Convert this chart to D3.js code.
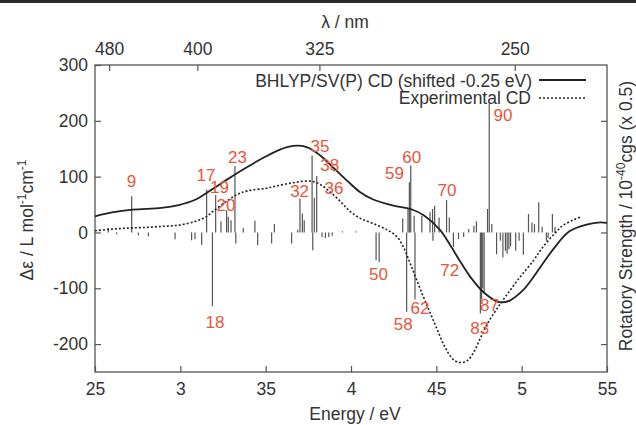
<!DOCTYPE html>
<html>
<head>
<meta charset="utf-8">
<script src="https://cdn.jsdelivr.net/npm/d3@7/dist/d3.min.js"></script>
<style>
  body { margin: 0; background: #fff; }
  svg { display: block; font-family: "Liberation Sans", Arial, sans-serif; }
  .tick text { font-size: 17.5px; fill: #333; }
  .tick line { stroke: #555; stroke-width: 1.2; }
</style>
</head>
<body>
<svg id="cd" width="636" height="425"></svg>
<script>
// theoretical CD (BHLYP/SV(P), shifted)
var theoryE = [2.5, 2.6, 2.72, 2.89, 2.99, 3.09, 3.18, 3.28, 3.38, 3.5, 3.58, 3.66, 3.74, 3.82, 3.9, 3.98, 4.05, 4.13, 4.25, 4.35, 4.43, 4.52, 4.58, 4.64, 4.70, 4.78, 4.87, 4.93, 5.01, 5.05, 5.11, 5.19, 5.28, 5.38, 5.46, 5.5];
var theoryV = [29, 36, 41, 44, 49, 59, 76, 96, 115, 136, 148, 155, 153, 138, 115, 92, 73, 59, 48, 42, 30, 5, -22, -52, -80, -108, -125, -122, -103, -88, -62, -28, 2, 14, 18, 17];

// experimental CD
var expE = [2.5, 2.6, 2.7, 2.8, 2.9, 2.99, 3.09, 3.15, 3.2, 3.28, 3.34, 3.4, 3.5, 3.56, 3.66, 3.76, 3.82, 3.88, 3.94, 3.99, 4.05, 4.13, 4.21, 4.27, 4.31, 4.35, 4.40, 4.45, 4.50, 4.55, 4.60, 4.64, 4.68, 4.72, 4.76, 4.80, 4.85, 4.91, 4.99, 5.07, 5.12, 5.19, 5.24, 5.30, 5.35];
var expV = [3, 6, 8, 9, 11, 13, 20, 28, 40, 58, 69, 75, 79, 83, 89, 92, 86, 72, 55, 39, 26, 16, 5, -8, -28, -58, -97, -134, -170, -205, -228, -233, -230, -214, -188, -163, -139, -113, -80, -50, -28, -3, 12, 22, 28];

// rotatory strengths (sticks)
var stickE = [2.578, 2.627, 2.715, 2.754, 2.813, 2.969, 3.066, 3.086, 3.125, 3.154,
              3.188, 3.207, 3.238, 3.271, 3.281, 3.297, 3.320, 3.325, 3.369, 3.437,
              3.453, 3.535, 3.551, 3.652, 3.688, 3.701, 3.715, 3.726, 3.772, 3.776,
              3.785, 3.799, 3.83, 3.85, 3.87, 3.89, 3.95, 4.03, 4.147, 4.165,
              4.303, 4.326, 4.334, 4.342, 4.350, 4.37, 4.375, 4.415, 4.463, 4.478,
              4.48, 4.49, 4.516, 4.56, 4.576, 4.60, 4.63, 4.66, 4.69, 4.72,
              4.735, 4.758, 4.765, 4.772, 4.78, 4.80, 4.81, 4.825, 4.853, 4.875,
              4.89, 4.905, 4.915, 4.925, 4.935, 4.965, 4.985, 5.01, 5.04, 5.06,
              5.075, 5.10, 5.12, 5.145, 5.155, 5.18, 5.195];
var stickV = [8, -3, 65, -5, -7, -12, -14, -12, -22, 77,
              -132, 67, 20, 40, 28, 22, 119, -20, 8, 21,
              -23, -20, 15, -20, 5, 61, 34, 22, 138, -32,
              62, 101, -8, -10, -8, -6, 2, 2, -50, -53,
              25, -142, 42, 90, 120, 30, -120, 30, 36, 42,
              -15, 48, 27, 58, 27, -26, -12, -8, 6, 12,
              20, -145, -120, -100, -109, 42, 231, 15, -39, -15,
              -45, -33, -38, -30, -25, -33, -15, -40, 33, 18,
              15, 54, 10, -15, -10, 33, 10];

// excited state numbers and where they sit (eV, L/mol/cm)
var labelText = ["9", "17", "19", "20", "23", "18", "32", "35", "38", "36", "50", "59", "60", "62", "58", "70", "72", "83", "87", "90"];
var labelE = [2.714, 3.150, 3.229, 3.268, 3.335, 3.203, 3.699, 3.818, 3.875, 3.900, 4.161, 4.255, 4.356, 4.404, 4.306, 4.562, 4.578, 4.754, 4.811, 4.890];
var labelV = [92, 104, 82, 49, 136, -160, 74, 155, 121, 79, -75, 106, 135, -136, -164, 76, -67, -171, -130, 210];

var energyTicks = [2.5, 3, 3.5, 4, 4.5, 5, 5.5];
var energyTickText = ["25", "3", "35", "4", "45", "5", "55"];
var lambdaTicks = [480, 400, 325, 250];
var yTicks = [-200, -100, 0, 100, 200, 300];

var hc = 1239.84;

var svg = d3.select("#cd"),
    margin = {top: 65, right: 29, bottom: 53, left: 95},
    width = +svg.attr("width") - margin.left - margin.right,
    height = +svg.attr("height") - margin.top - margin.bottom;

svg.append("rect").attr("x", 0).attr("y", 0).attr("width", 636).attr("height", 3).attr("fill", "#2a2a2a");

var x = d3.scaleLinear().domain([2.5, 5.5]).range([0, width]),
    y = d3.scaleLinear().domain([-250, 300]).range([height, 0]);

var g = svg.append("g")
    .attr("transform", "translate(" + margin.left + "," + margin.top + ")");

// axes (ticks point inward)
g.append("g")
    .attr("transform", "translate(0," + height + ")")
    .call(d3.axisBottom(x).tickValues(energyTicks).tickSize(-6).tickPadding(11)
      .tickFormat(function(d, i) { return energyTickText[i]; }));

g.append("g")
    .call(d3.axisTop(x).tickValues(lambdaTicks.map(function(l) { return hc / l; }))
      .tickSize(-6).tickPadding(10)
      .tickFormat(function(d, i) { return lambdaTicks[i]; }));

g.append("g")
    .call(d3.axisLeft(y).tickValues(yTicks).tickSize(-6).tickPadding(7)
      .tickFormat(function(d) { return String(d); }));

g.append("g")
    .attr("transform", "translate(" + width + ",0)")
    .call(d3.axisLeft(y).tickValues(yTicks.slice(0, 5)).tickSize(6).tickFormat(""));

g.selectAll(".domain").remove();

g.append("rect")
    .attr("width", width).attr("height", height)
    .attr("fill", "none").attr("stroke", "#555").attr("stroke-width", 1.3);

// sticks
g.selectAll(".stick")
    .data(stickE)
  .enter().append("line")
    .attr("class", "stick")
    .attr("x1", function(d) { return x(d); })
    .attr("x2", function(d) { return x(d); })
    .attr("y1", y(0))
    .attr("y2", function(d, i) { return y(stickV[i]); })
    .attr("stroke", "#555")
    .attr("stroke-width", 1.2);

var line = d3.line()
    .x(function(d) { return x(d[0]); })
    .y(function(d) { return y(d[1]); })
    .curve(d3.curveCatmullRom);

g.append("path")
    .datum(d3.zip(expE, expV))
    .attr("d", line)
    .attr("fill", "none")
    .attr("stroke", "#222")
    .attr("stroke-width", 1.6)
    .attr("stroke-dasharray", "2,2");

g.append("path")
    .datum(d3.zip(theoryE, theoryV))
    .attr("d", line)
    .attr("fill", "none")
    .attr("stroke", "#222")
    .attr("stroke-width", 1.8);

// state labels
g.selectAll(".lab")
    .data(labelText)
  .enter().append("text")
    .attr("class", "lab")
    .attr("x", function(d, i) { return x(labelE[i]); })
    .attr("y", function(d, i) { return y(labelV[i]); })
    .attr("dy", "0.36em")
    .attr("text-anchor", "middle")
    .style("font-size", "17px")
    .style("fill", "#e8553c")
    .text(function(d) { return d; });

// legend
var legend = svg.append("g").style("font-size", "17.5px").style("fill", "#333");
legend.append("text").attr("x", 532).attr("y", 87).attr("text-anchor", "end")
    .text("BHLYP/SV(P) CD (shifted -0.25 eV)");
legend.append("text").attr("x", 531).attr("y", 104).attr("text-anchor", "end")
    .text("Experimental CD");
legend.append("line").attr("x1", 539).attr("x2", 586).attr("y1", 80).attr("y2", 80)
    .attr("stroke", "#222").attr("stroke-width", 1.8);
legend.append("line").attr("x1", 539).attr("x2", 585).attr("y1", 98).attr("y2", 98)
    .attr("stroke", "#222").attr("stroke-width", 1.6).attr("stroke-dasharray", "2,2");

// axis titles
svg.append("text").attr("x", 345).attr("y", 28).attr("text-anchor", "middle")
    .style("font-size", "17.5px").style("fill", "#333").text("λ / nm");
svg.append("text").attr("x", 355).attr("y", 420).attr("text-anchor", "middle")
    .style("font-size", "17.5px").style("fill", "#333").text("Energy / eV");

var yl = svg.append("text")
    .attr("transform", "translate(33,220) rotate(-90)")
    .attr("text-anchor", "middle")
    .style("font-size", "17.5px").style("fill", "#333");
yl.append("tspan").text("Δε / L mol");
yl.append("tspan").attr("dy", -7).style("font-size", "12px").text("-1");
yl.append("tspan").attr("dy", 7).text("cm");
yl.append("tspan").attr("dy", -7).style("font-size", "12px").text("-1");

var yr = svg.append("text")
    .attr("transform", "translate(632,216) rotate(-90)")
    .attr("text-anchor", "middle")
    .style("font-size", "17.5px").style("fill", "#333");
yr.append("tspan").text("Rotatory Strength / 10");
yr.append("tspan").attr("dy", -7).style("font-size", "12px").text("-40");
yr.append("tspan").attr("dy", 7).text("cgs (x 0.5)");
</script>
</body>
</html>
